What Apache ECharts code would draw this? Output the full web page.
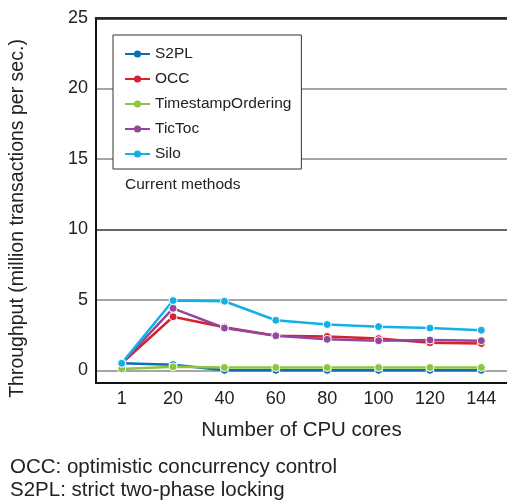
<!DOCTYPE html>
<html>
<head>
<meta charset="utf-8">
<style>
  html, body { margin: 0; padding: 0; background: #fff; }
  #chart { width: 507px; height: 503px; }
</style>
<script src="https://cdn.jsdelivr.net/npm/echarts@6/dist/echarts.min.js"></script>
</head>
<body>
<div id="chart"></div>
<script>
// CPU cores (x axis categories)
const cores = ["1", "20", "40", "60", "80", "100", "120", "144"];
// throughput, million transactions per sec.
const s2pl = [0.5, 0.4, 0.0, 0.0, 0.0, 0.0, 0.0, 0.0];
const occ = [0.5, 3.8, 3.05, 2.45, 2.4, 2.25, 1.95, 1.9];
const tso = [0.1, 0.25, 0.2, 0.2, 0.2, 0.2, 0.2, 0.2];
const tictoc = [0.5, 4.4, 3.0, 2.45, 2.2, 2.1, 2.15, 2.1];
const silo = [0.5, 4.95, 4.9, 3.55, 3.25, 3.1, 3.0, 2.85];
const yTicks = [0, 5, 10, 15, 20, 25];

const font = "Liberation Sans, Arial, Helvetica, sans-serif";
const chart = echarts.init(document.getElementById("chart"));

// 一条折线的公共样式
const makeSeries = (name, data, color) => ({
  name: name,
  type: "line",
  data: data,
  symbol: "circle",
  symbolSize: 8,
  lineStyle: { width: 2.5, color: color },
  itemStyle: { color: color, borderColor: "#fff", borderWidth: 1 },
  emphasis: { disabled: true },
  animation: false,
});

chart.setOption({
  animation: false,
  textStyle: { fontFamily: font },
  grid: { left: 96, top: 18, right: -3, bottom: 120 },
  legend: {
    orient: "vertical",
    left: 113,
    top: 35,
    itemWidth: 25,
    itemHeight: 9,
    itemGap: 9,
    padding: [11, 10, 7, 11],
    backgroundColor: "#fff",
    borderColor: "#333",
    borderWidth: 1,
    borderRadius: 0,
    itemStyle: { borderWidth: 0 },
    textStyle: { fontSize: 15.5, color: "#222", fontFamily: font },
    data: ["S2PL", "OCC", "TimestampOrdering", "TicToc", "Silo"],
  },
  xAxis: [
    {
      type: "category",
      data: cores,
      name: "Number of CPU cores",
      nameLocation: "middle",
      nameGap: 37,
      nameTextStyle: { fontSize: 20.5, color: "#222", fontFamily: font },
      axisLine: { onZero: false, lineStyle: { color: "#111", width: 2 } },
      axisTick: { show: false },
      axisLabel: { fontSize: 18, color: "#222", margin: 7, fontFamily: font },
    },
    {
      // 顶部粗线
      type: "category",
      data: cores,
      position: "top",
      axisLine: { onZero: false, lineStyle: { color: "#222", width: 2.5 } },
      axisTick: { show: false },
      axisLabel: { show: false },
    },
  ],
  yAxis: {
    type: "value",
    min: -0.9,
    max: 25,
    name: "Throughput (million transactions per sec.)",
    nameLocation: "middle",
    nameGap: 68,
    nameTextStyle: { fontSize: 19.5, color: "#222", fontFamily: font, padding: [0, 36, 0, 0] },
    axisLine: { show: true, lineStyle: { color: "#111", width: 2 } },
    axisTick: { show: false, customValues: yTicks },
    axisLabel: {
      customValues: yTicks,
      fontSize: 18,
      color: "#222",
      margin: 8,
      fontFamily: font,
    },
    splitLine: {
      show: true,
      lineStyle: { color: ["#888", "#888", "#333", "#888", "#888", "#222"], width: 1.5 },
    },
  },
  graphic: [
    {
      type: "text",
      left: 125,
      top: 177,
      style: { text: "Current methods", fill: "#222", font: "15.5px " + font },
    },
    {
      type: "text",
      left: 10,
      top: 457,
      style: { text: "OCC: optimistic concurrency control", fill: "#222", font: "20.5px " + font },
    },
    {
      type: "text",
      left: 10,
      top: 480,
      style: { text: "S2PL: strict two-phase locking", fill: "#222", font: "20.5px " + font },
    },
  ],
  series: [
    makeSeries("S2PL", s2pl, "#0a6eb8"),
    makeSeries("OCC", occ, "#d6212f"),
    makeSeries("TimestampOrdering", tso, "#8cc63f"),
    makeSeries("TicToc", tictoc, "#93479b"),
    makeSeries("Silo", silo, "#13b0e6"),
  ],
});
</script>
</body>
</html>
